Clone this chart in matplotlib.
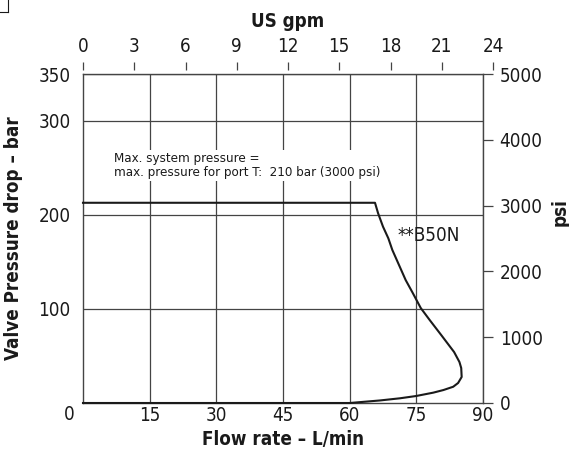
import numpy as np
import matplotlib.pyplot as plt
from matplotlib.lines import Line2D

# flow vs pressure drop curve (**B50N)
flow_lpm = [0, 65.7, 66.4, 67.5, 68.7, 69.6, 71.1, 72.6, 74.2, 76.0, 78.0, 80.6, 83.5, 84.7, 85.1, 85.2, 84.4, 83.3, 81.1, 78.8, 74.9, 71.3, 66.8, 60.0, 0]
drop_bar = [213, 213, 201.8, 187.6, 175.2, 162.8, 146.8, 130.8, 117, 101, 88.3, 72.3, 54.2, 43.6, 37.2, 27.7, 21.3, 17.3, 13.8, 11.0, 7.4, 5.0, 2.7, 0, 0]

x_ticks = [15, 30, 45, 60, 75, 90]
y_ticks = [100, 200, 300, 350]
psi_ticks = [0, 1000, 2000, 3000, 4000, 5000]
gpm_ticks = [0, 3, 6, 9, 12, 15, 18, 21, 24]

W, H = 569, 453
L, R, T, B = 83, 483, 74, 403
ink = '#1a1a1a'
grid_c = '#444444'
plt.rcParams['font.family'] = ['DejaVu Sans']
plt.rcParams['font.stretch'] = 'condensed'
fs = 13.5

fig = plt.figure(figsize=(W / 100, H / 100), dpi=100)
ax = fig.add_axes([L / W, 1 - B / H, (R - L) / W, (B - T) / H])

ax.plot(flow_lpm, drop_bar, color=ink, lw=1.5, clip_on=False, zorder=3)
ax.set_xlim(0, 90)
ax.set_ylim(0, 350)

ax.set_xticks(x_ticks)
ax.set_yticks(y_ticks)
ax.tick_params(axis='both', length=0, labelsize=fs, colors=ink)
ax.tick_params(axis='x', pad=2)
ax.tick_params(axis='y', pad=9)
ax.grid(True, color=grid_c, lw=0.9)
for s in ax.spines.values():
    s.set_color(grid_c)
    s.set_linewidth(1.0)
ax.annotate('0', xy=(0, 0), xytext=(-14, -11), textcoords='offset pixels',
            ha='center', va='center', fontsize=fs, color=ink)

ax.set_xlabel('Flow rate – L/min', fontsize=fs, fontweight='bold', color=ink, labelpad=4)
ax.set_ylabel('Valve Pressure drop – bar', fontsize=fs, fontweight='bold', color=ink)
ax.yaxis.set_label_coords(-0.15, 0.5)

# psi axis on right
ax2 = ax.twinx()
ax2.set_ylim(0, 5000)
ax2.set_yticks(psi_ticks)
ax2.tick_params(axis='y', direction='out', length=7, width=0.9, color=grid_c,
                labelsize=fs, labelcolor=ink, pad=5)
for s in ax2.spines.values():
    s.set_visible(False)
ax2.set_ylabel('psi', fontsize=fs, fontweight='bold', color=ink)
ax2.yaxis.set_label_coords(1.168, 0.58)

# US gpm axis on top
top_y = 70
ax3 = fig.add_axes([L / W, 1 - top_y / H, 410 / W, 0.0001])
ax3.set_xlim(0, 24)
ax3.set_xticks(gpm_ticks)
ax3.set_yticks([])
ax3.xaxis.tick_top()
ax3.xaxis.set_label_position('top')
ax3.tick_params(axis='x', direction='out', length=6, width=0.9, color=grid_c,
                labelsize=fs, labelcolor=ink, pad=4)
for s in ax3.spines.values():
    s.set_visible(False)
ax3.patch.set_visible(False)
ax3.set_xlabel('US gpm', fontsize=fs, fontweight='bold', color=ink, labelpad=7)

ax.text(0.078, 0.722, 'Max. system pressure =\nmax. pressure for port T:  210 bar (3000 psi)',
        transform=ax.transAxes, fontsize=9.5, color=ink, va='center', ha='left',
        linespacing=1.15, bbox=dict(facecolor='white', edgecolor='none', pad=1))
ax.text(0.785, 0.51, '**B50N', transform=ax.transAxes, fontsize=fs, color=ink,
        va='center', ha='left')

# corner crop mark
fig.add_artist(Line2D([8 / W, 8 / W], [1, 1 - 12 / H], color=ink, lw=0.8))
fig.add_artist(Line2D([0, 8 / W], [1 - 12 / H, 1 - 12 / H], color=ink, lw=0.8))

fig.savefig('out.png', dpi=100)
